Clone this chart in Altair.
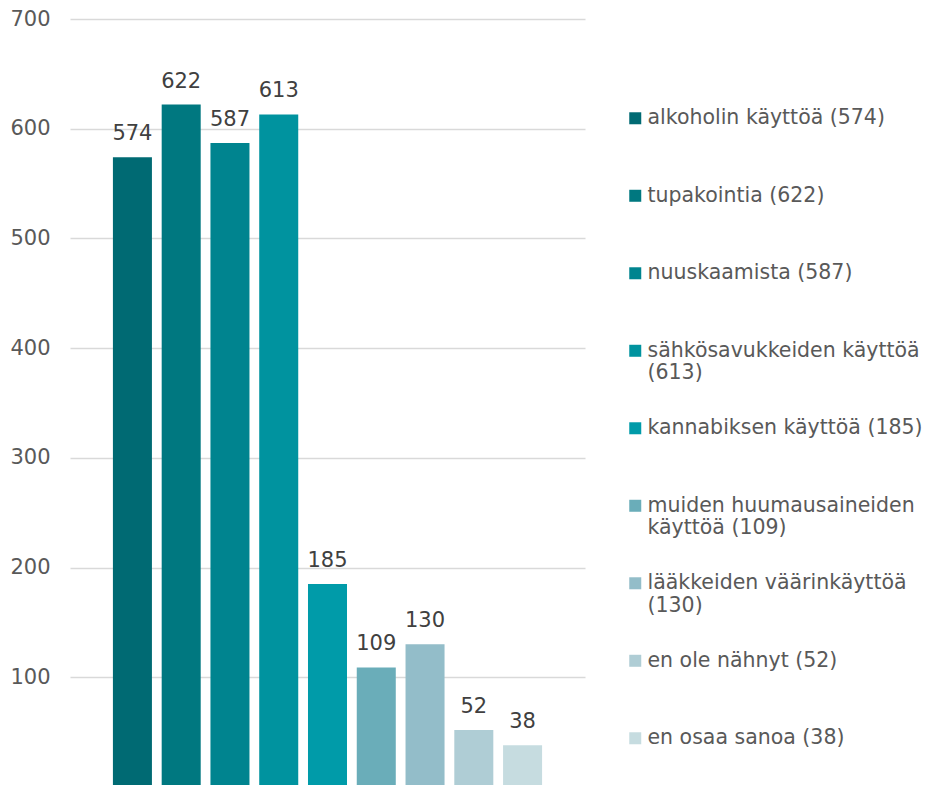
import altair as alt
import pandas as pd

categories = [
    "alkoholin käyttöä",
    "tupakointia",
    "nuuskaamista",
    "sähkösavukkeiden käyttöä",
    "kannabiksen käyttöä",
    "muiden huumausaineiden käyttöä",
    "lääkkeiden väärinkäyttöä",
    "en ole nähnyt",
    "en osaa sanoa",
]
values = [574, 622, 587, 613, 185, 109, 130, 52, 38]
# '|' marks a line break; every label has two lines so all legend rows are equally tall
legend_labels = [
    "alkoholin käyttöä (574)| ",
    "tupakointia (622)| ",
    "nuuskaamista (587)| ",
    "sähkösavukkeiden käyttöä|(613)",
    "kannabiksen käyttöä (185)| ",
    "muiden huumausaineiden|käyttöä (109)",
    "lääkkeiden väärinkäyttöä|(130)",
    "en ole nähnyt (52)| ",
    "en osaa sanoa (38)| ",
]
colors = ["#006A73", "#007880", "#00848F", "#00939F", "#009BA9",
          "#6AADB9", "#93BDC9", "#AFCDD5", "#C6DCE0"]
y_ticks = [100, 200, 300, 400, 500, 600, 700]

df = pd.DataFrame({"cat": categories, "value": values, "legend": legend_labels})

FONT = "DejaVu Sans"
FS = 21

x = alt.X("legend:N", sort=legend_labels, axis=None,
          scale=alt.Scale(paddingInner=0.2, paddingOuter=0.88))
y = alt.Y("value:Q", scale=alt.Scale(domain=[0, 700]),
          axis=alt.Axis(values=y_ticks, title=None, domain=False, ticks=False,
                        labelFont=FONT, labelFontSize=FS, labelColor="#595959",
                        labelPadding=20, gridColor="#D9D9D9", gridWidth=1.5))

bars = alt.Chart(df).mark_bar().encode(
    x=x, y=y,
    color=alt.Color("legend:N", sort=legend_labels,
                    scale=alt.Scale(domain=legend_labels, range=colors),
                    legend=alt.Legend(
                        title=None, orient="none", legendX=555, legendY=79,
                        symbolType="M-1,0.67H1V2.67H-1Z", symbolSize=144,
                        symbolStrokeWidth=0,
                        labelFont=FONT, labelFontSize=20.5, labelColor="#595959",
                        labelExpr="split(datum.label, '|')", labelLimit=400,
                        labelBaseline="top", labelOffset=2,
                        rowPadding=23.5, padding=0,
                    )),
)

labels = alt.Chart(df).mark_text(
    baseline="alphabetic", dy=-17, font=FONT, fontSize=FS, color="#404040"
).encode(x=x, y=y, text="value:Q")

chart = (bars + labels).properties(
    width=515, height=768,
    padding={"left": 1, "top": 0, "right": 0, "bottom": 0},
).configure_view(stroke=None)

chart.save("out.html", embed_options={"renderer": "svg", "actions": False})
